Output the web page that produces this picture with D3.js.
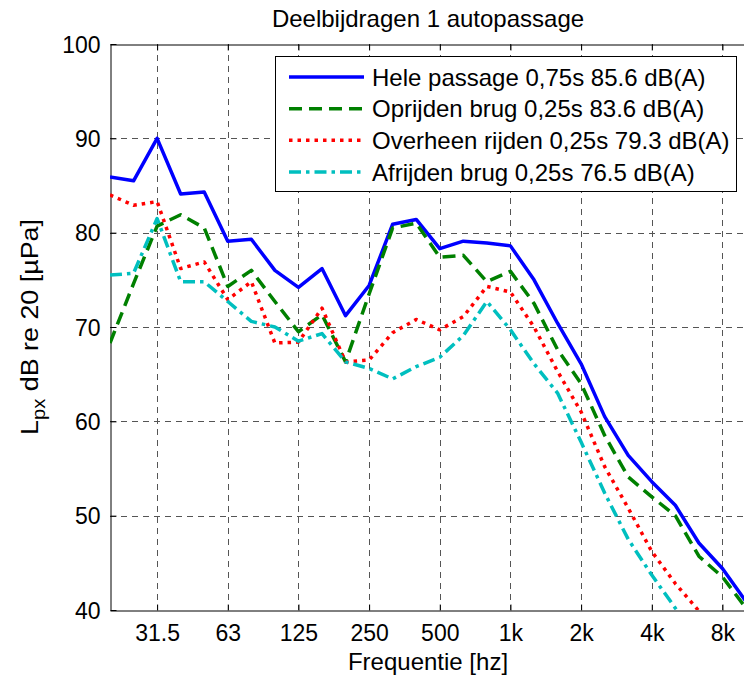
<!DOCTYPE html>
<html>
<head>
<meta charset="utf-8">
<script src="https://cdn.jsdelivr.net/npm/d3@7"></script>
<style>
  body { margin: 0; background: #fff; }
  text { font-family: "Liberation Sans", Arial, sans-serif; fill: #000; }
</style>
</head>
<body>
<div id="wrapper"></div>
<script>

// third-octave bands, 20 Hz .. 10 kHz
const bands = ["20","25","31.5","40","50","63","80","100","125","160","200","250","315","400","500",
               "630","800","1k","1.25k","1.6k","2k","2.5k","3.15k","4k","5k","6.3k","8k","10k"]
const tickLabels = ["31.5","63","125","250","500","1k","2k","4k","8k"]
const yTicks = [40, 50, 60, 70, 80, 90, 100]

const heleValues = [85.9, 85.5, 90.0, 84.1, 84.3, 79.1, 79.3, 76.0, 74.2, 76.2, 71.2, 74.4, 80.9, 81.4, 78.3,
                    79.1, 78.9, 78.6, 75.0, 70.4, 66.1, 60.5, 56.4, 53.6, 51.1, 47.1, 44.4, 40.9]
const oprijdenValues = [68.3, 74.6, 80.7, 81.9, 80.5, 74.3, 76.0, 72.7, 69.5, 71.3, 66.3, 73.5, 80.5, 81.0, 77.4,
                        77.6, 74.8, 75.9, 72.5, 67.6, 64.0, 58.5, 54.1, 52.0, 50.0, 45.7, 43.5, 40.2]
const overheenValues = [84.0, 82.9, 83.3, 76.2, 76.9, 72.9, 74.8, 68.3, 68.4, 72.0, 66.3, 66.5, 69.4, 70.8, 69.7,
                        71.1, 74.3, 73.7, 70.0, 65.3, 61.0, 55.2, 50.8, 46.2, 42.8, 39.9, 36.5, 33.0]
const afrijdenValues = [75.5, 75.7, 81.5, 74.8, 74.8, 72.7, 70.6, 70.0, 68.5, 69.3, 66.3, 65.6, 64.5, 65.8, 66.8,
                        69.1, 72.7, 69.7, 66.1, 63.0, 57.8, 52.4, 47.5, 43.7, 40.2, 36.5, 33.0, 29.5]

const seriesNames = ["Hele passage 0,75s 85.6 dB(A)", "Oprijden brug 0,25s 83.6 dB(A)",
                     "Overheen rijden 0,25s 79.3 dB(A)", "Afrijden brug 0,25s 76.5 dB(A)"]

async function drawChart() {

  const width = 744
  const height = 677
  const margin = {top: 44, left: 110, bottom: 67}
  const plotRight = 746   // 10 kHz sits just past the window edge

  const series = [
    {name: seriesNames[0], values: heleValues, color: "#0000ff", dash: null},
    {name: seriesNames[1], values: oprijdenValues, color: "#008000", dash: "13,7"},
    {name: seriesNames[2], values: overheenValues, color: "#ff0000", dash: "3.5,5"},
    {name: seriesNames[3], values: afrijdenValues, color: "#00bfbf", dash: "12,5,3.5,5"},
  ]

  // scales: x by band index (log spaced), y linear dB
  const xScale = d3.scaleLinear()
      .domain([0, bands.length - 1])
      .range([margin.left, plotRight])
  const yScale = d3.scaleLinear()
      .domain([40, 100])
      .range([height - margin.bottom, margin.top])

  const tickIndex = tickLabels.map(t => bands.indexOf(t))

  const svg = d3.select("#wrapper")
    .append("svg")
      .attr("width", width)
      .attr("height", height)

  svg.append("defs").append("clipPath")
      .attr("id", "plot-clip")
    .append("rect")
      .attr("x", margin.left)
      .attr("y", margin.top)
      .attr("width", plotRight - margin.left)
      .attr("height", height - margin.bottom - margin.top)

  // grid
  const grid = svg.append("g")
      .attr("stroke", "#555")
      .attr("stroke-width", 1)
      .attr("stroke-dasharray", "6,5")
  grid.selectAll(".vgrid")
    .data(tickIndex)
    .join("line")
      .attr("x1", d => Math.round(xScale(d)) + 0.5)
      .attr("x2", d => Math.round(xScale(d)) + 0.5)
      .attr("y1", margin.top)
      .attr("y2", height - margin.bottom)
  grid.selectAll(".hgrid")
    .data(yTicks.slice(1, -1))
    .join("line")
      .attr("x1", margin.left)
      .attr("x2", plotRight)
      .attr("y1", d => Math.round(yScale(d)) + 0.5)
      .attr("y2", d => Math.round(yScale(d)) + 0.5)

  // axes with inward ticks
  const xAxis = d3.axisBottom(xScale)
      .tickValues(tickIndex)
      .tickFormat((d, i) => tickLabels[i])
      .tickSizeInner(-6)
      .tickSizeOuter(0)
      .tickPadding(14)
  const xAxisTop = d3.axisTop(xScale)
      .tickValues(tickIndex)
      .tickFormat("")
      .tickSizeInner(-6)
      .tickSizeOuter(0)
  const yAxis = d3.axisLeft(yScale)
      .tickValues(yTicks)
      .tickSizeInner(-6)
      .tickSizeOuter(0)
      .tickPadding(10)

  const xg = svg.append("g")
      .attr("transform", `translate(0,${Math.round(yScale(40)) + 0.5})`)
      .call(xAxis)
  svg.append("g")
      .attr("transform", `translate(0,${margin.top + 0.5})`)
      .call(xAxisTop)
  const yg = svg.append("g")
      .attr("transform", `translate(${margin.left + 0.5},0)`)
      .call(yAxis)

  svg.selectAll(".domain").attr("stroke", "#000")
  svg.selectAll(".tick line").attr("stroke", "#000")
  xg.selectAll("text").attr("font-size", 23).attr("font-family", "Liberation Sans, Arial, sans-serif")
  yg.selectAll("text").attr("font-size", 23).attr("font-family", "Liberation Sans, Arial, sans-serif")
  yg.selectAll(".tick text").attr("dy", "0.36em")

  // lines
  const lineGen = d3.line()
      .x((d, i) => xScale(i))
      .y(d => yScale(d))

  svg.append("g")
      .attr("clip-path", "url(#plot-clip)")
    .selectAll("path")
    .data(series)
    .join("path")
      .attr("d", d => lineGen(d.values))
      .attr("fill", "none")
      .attr("stroke", d => d.color)
      .attr("stroke-width", 3.5)
      .attr("stroke-dasharray", d => d.dash)
      .attr("stroke-linejoin", "round")

  // legend
  const legend = svg.append("g")
  legend.append("rect")
      .attr("x", 275.5)
      .attr("y", 56.5)
      .attr("width", 461)
      .attr("height", 135)
      .attr("fill", "#fff")
      .attr("stroke", "#000")
  const rowY = d3.scaleLinear().domain([0, 3]).range([77, 172])
  const rows = legend.selectAll(".row")
    .data(series)
    .join("g")
      .attr("transform", (d, i) => `translate(0,${rowY(i)})`)
  rows.append("line")
      .attr("x1", 289)
      .attr("x2", 364)
      .attr("stroke", d => d.color)
      .attr("stroke-width", 3.5)
      .attr("stroke-dasharray", d => d.dash)
  rows.append("text")
      .attr("x", 372)
      .attr("dy", "0.36em")
      .attr("font-size", 24)
      .text(d => d.name)

  // title and labels
  svg.append("text")
      .attr("x", (margin.left + plotRight) / 2)
      .attr("y", 27)
      .attr("text-anchor", "middle")
      .attr("font-size", 24)
      .text("Deelbijdragen 1 autopassage")

  svg.append("text")
      .attr("x", (margin.left + plotRight) / 2)
      .attr("y", 670)
      .attr("text-anchor", "middle")
      .attr("font-size", 24)
      .text("Frequentie [hz]")

  const ylab = svg.append("text")
      .attr("transform", `translate(38,${yScale(70)}) rotate(-90) scale(1.12,1)`)
      .attr("text-anchor", "middle")
      .attr("font-size", 24)
  ylab.append("tspan").text("L")
  ylab.append("tspan").attr("font-size", 18).attr("dy", 7).text("px")
  ylab.append("tspan").attr("dy", -7).text(" dB re 20 [µPa]")
}

window.onload = function () {
  drawChart()
}
</script>
</body>
</html>
